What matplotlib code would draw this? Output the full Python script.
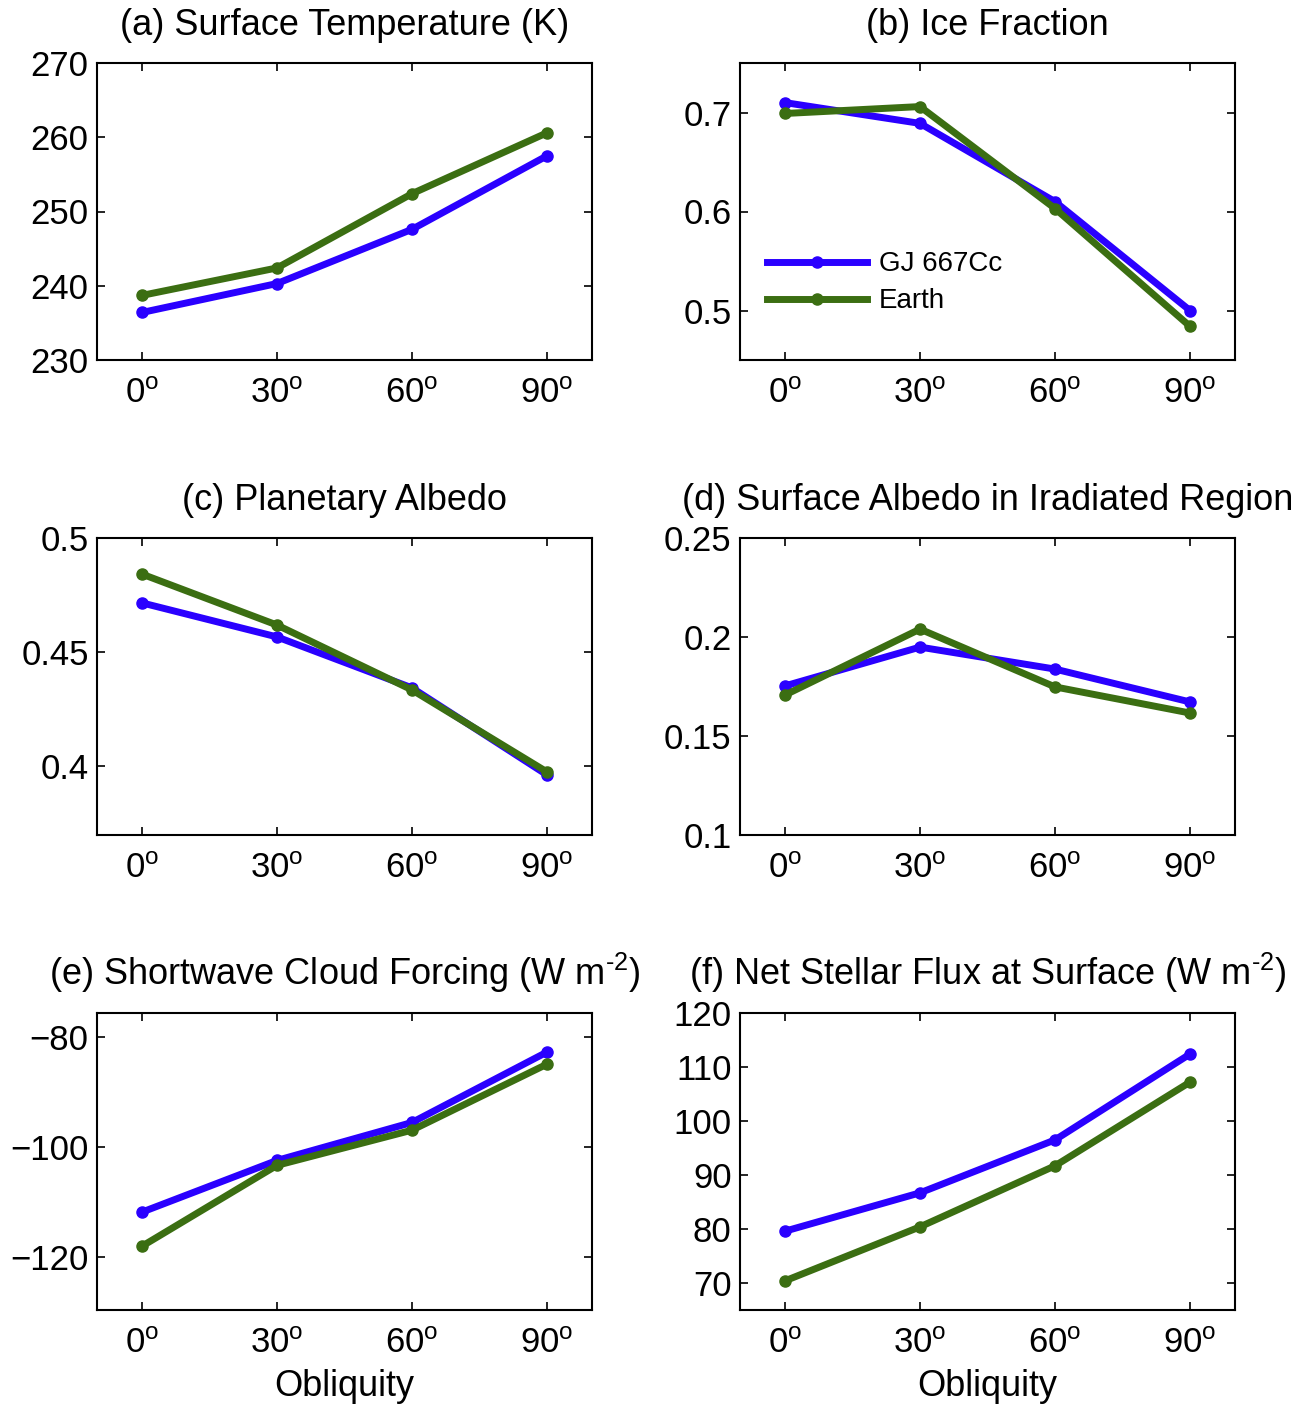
import matplotlib
matplotlib.use("Agg")
from matplotlib import pyplot as plt

plt.rcParams['font.family'] = ['Liberation Sans', 'DejaVu Sans']
plt.rcParams['mathtext.fontset'] = 'custom'
plt.rcParams['mathtext.rm'] = 'Liberation Sans'
plt.rcParams['mathtext.it'] = 'Liberation Sans'

# obliquity (degrees)
obliquity = [0, 30, 60, 90]
xticklabels = ['0$^{\\mathrm{o}}$', '30$^{\\mathrm{o}}$', '60$^{\\mathrm{o}}$', '90$^{\\mathrm{o}}$']

# GJ 667Cc
gj_tsurf = [236.4, 240.3, 247.6, 257.5]
gj_ice = [0.710, 0.689, 0.610, 0.500]
gj_palb = [0.4716, 0.4567, 0.4344, 0.3963]
gj_salb = [0.1753, 0.1949, 0.1838, 0.1672]
gj_swcf = [-111.8, -102.4, -95.5, -82.7]
gj_flux = [79.6, 86.7, 96.5, 112.4]

# Earth
ea_tsurf = [238.7, 242.4, 252.4, 260.6]
ea_ice = [0.699, 0.706, 0.603, 0.484]
ea_palb = [0.4842, 0.4619, 0.4335, 0.3976]
ea_salb = [0.1707, 0.2040, 0.1748, 0.1616]
ea_swcf = [-118.0, -103.3, -96.9, -84.9]
ea_flux = [70.4, 80.4, 91.7, 107.2]

titles = ['(a) Surface Temperature (K)', '(b) Ice Fraction', '(c) Planetary Albedo',
          '(d) Surface Albedo in Iradiated Region',
          '(e) Shortwave Cloud Forcing (W m$^{\\text{-2}}$)',
          '(f) Net Stellar Flux at Surface (W m$^{\\text{-2}}$)']
gj_all = [gj_tsurf, gj_ice, gj_palb, gj_salb, gj_swcf, gj_flux]
ea_all = [ea_tsurf, ea_ice, ea_palb, ea_salb, ea_swcf, ea_flux]
ylims = [(230, 270), (0.45, 0.75), (0.37, 0.5), (0.1, 0.25), (-129.6, -75.6), (65, 120)]
yticks = [[230, 240, 250, 260, 270], [0.5, 0.6, 0.7], [0.4, 0.45, 0.5],
          [0.1, 0.15, 0.2, 0.25], [-120, -100, -80], [70, 80, 90, 100, 110, 120]]
yticklabels = [None, ['0.5', '0.6', '0.7'], ['0.4', '0.45', '0.5'],
               ['0.1', '0.15', '0.2', '0.25'], None, None]

blue = '#2a00ff'
green = '#3b6e12'

fig = plt.figure(figsize=(13.04, 14.05), dpi=100)
W, H = 1304., 1405.
lefts = [97, 740]
bottoms = [360, 835, 1310]

for i in range(6):
    r, c = i // 2, i % 2
    ax = fig.add_axes([lefts[c] / W, 1 - bottoms[r] / H, 495 / W, 297 / H])
    ax.plot(obliquity, gj_all[i], '-o', color=blue, lw=5, ms=8, label='GJ 667Cc', zorder=3)
    ax.plot(obliquity, ea_all[i], '-o', color=green, lw=5, ms=8, label='Earth', zorder=3)
    ax.set_xlim(-10, 100)
    ax.set_ylim(ylims[i])
    ax.set_xticks(obliquity)
    ax.set_xticklabels(xticklabels)
    ax.set_yticks(yticks[i])
    if yticklabels[i] is not None:
        ax.set_yticklabels(yticklabels[i])
    ax.tick_params(direction='in', length=6, width=1.2, top=True, right=True,
                   labelsize=25)
    ax.tick_params(axis='x', pad=12)
    ax.tick_params(axis='y', pad=6)
    for s in ax.spines.values():
        s.set_linewidth(1.5)
    ax.set_title(titles[i], fontsize=26, pad=20)
    if r == 2:
        ax.set_xlabel('Obliquity', fontsize=26, labelpad=7)
    if i == 1:
        ax.legend(loc='center left', bbox_to_anchor=(0.005, 0.26), frameon=False,
                  fontsize=20, handlelength=3.6, numpoints=1, labelspacing=0.4,
                  handletextpad=0.4)

fig.savefig('out.png', dpi=100)
